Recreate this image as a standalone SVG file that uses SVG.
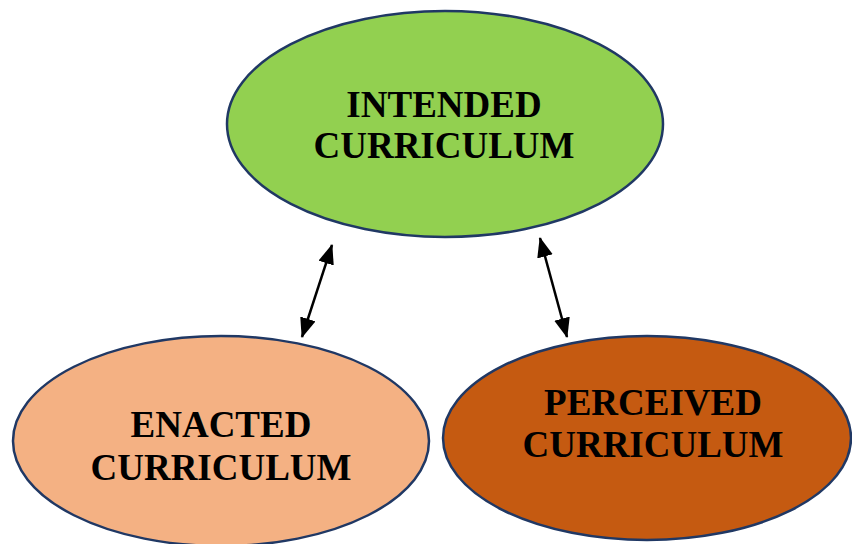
<svg xmlns="http://www.w3.org/2000/svg" width="852" height="544" viewBox="0 0 852 544">
<defs>
<style>
.node{stroke:#203864;stroke-width:2.5}
.lbl{font-family:"Liberation Serif","Times New Roman",serif;font-weight:bold;font-size:37px;fill:#000;text-anchor:middle}
.conn{stroke:#000;stroke-width:2.5;fill:none}
</style>
<marker id="ah" viewBox="0 0 20 16" refX="19" refY="8" markerWidth="20" markerHeight="16" markerUnits="userSpaceOnUse" orient="auto-start-reverse">
<path d="M0,0 L20,8 L0,16 z" fill="#000"/>
</marker>
</defs>
<rect width="852" height="544" fill="#fff"/>
<g id="intended">
<ellipse class="node" cx="445" cy="124" rx="218" ry="113" fill="#92D050"/>
<text class="lbl" x="444" y="117">INTENDED</text>
<text class="lbl" x="444" y="158">CURRICULUM</text>
</g>
<g id="enacted">
<ellipse class="node" cx="221" cy="441" rx="208" ry="105" fill="#F4B183"/>
<text class="lbl" x="221" y="437">ENACTED</text>
<text class="lbl" x="221" y="480">CURRICULUM</text>
</g>
<g id="perceived">
<ellipse class="node" cx="647" cy="438" rx="204" ry="102" fill="#C55A11"/>
<text class="lbl" x="653" y="415">PERCEIVED</text>
<text class="lbl" x="653" y="457">CURRICULUM</text>
</g>
<g id="connectors">
<line class="conn" x1="302" y1="337" x2="332" y2="245" marker-start="url(#ah)" marker-end="url(#ah)"/>
<line class="conn" x1="567" y1="337" x2="540" y2="238" marker-start="url(#ah)" marker-end="url(#ah)"/>
</g>
</svg>
